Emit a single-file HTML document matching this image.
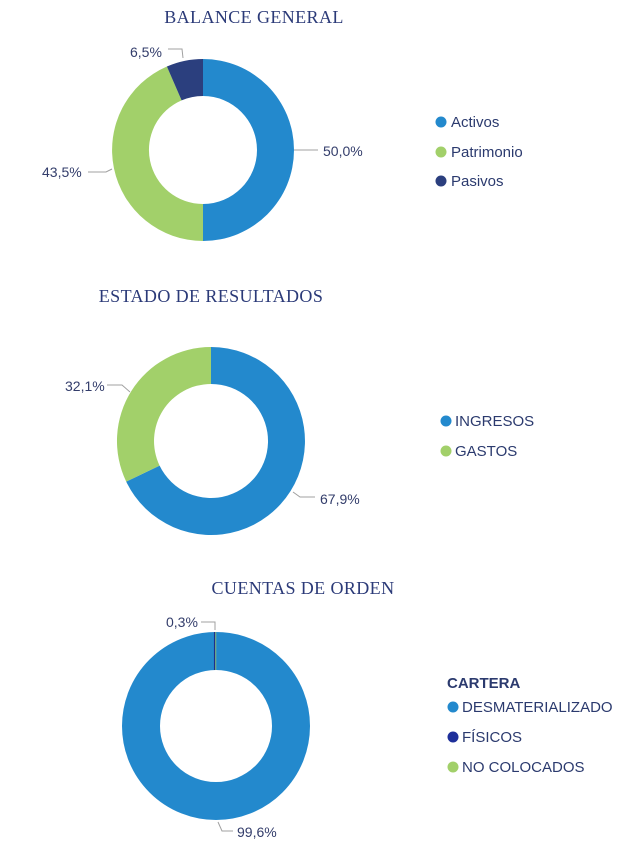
<!DOCTYPE html>
<html><head><meta charset="utf-8"><style>
body{margin:0;background:#fff;}
svg{display:block}
.t{font-family:"Liberation Serif",serif;font-size:18px;fill:#2b3a78;text-anchor:middle;letter-spacing:0.4px}
.l{font-family:"Liberation Sans",sans-serif;font-size:14px;fill:#333d6b}
.g{font-family:"Liberation Sans",sans-serif;font-size:15px;fill:#2b3a6e}
.ln{fill:none;stroke:#a0a0a0;stroke-width:1}
</style></head><body>
<svg width="629" height="844" viewBox="0 0 629 844">
<text class="t" x="254" y="23">BALANCE GENERAL</text>
<path d="M203,59 A91,91 0 0 1 203,241 L203,204 A54,54 0 0 0 203,96 Z" fill="#2389cd"/>
<path d="M203,241 A91,91 0 0 1 166.9,66.5 L181.6,100.4 A54,54 0 0 0 203,204 Z" fill="#a2d06a"/>
<path d="M166.9,66.5 A91,91 0 0 1 203,59 L203,96 A54,54 0 0 0 181.6,100.4 Z" fill="#2b3f7e"/>
<text class="l" x="130" y="57">6,5%</text>
<polyline class="ln" points="168,49 182,49 183,58"/>
<text class="l" x="323" y="156">50,0%</text>
<polyline class="ln" points="294,150 318,150"/>
<text class="l" x="42" y="177">43,5%</text>
<polyline class="ln" points="88,172 106,172 112,169"/>
<circle cx="441" cy="122" r="5.5" fill="#2389cd"/><text class="g" x="451" y="127">Activos</text>
<circle cx="441" cy="152" r="5.5" fill="#a2d06a"/><text class="g" x="451" y="157">Patrimonio</text>
<circle cx="441" cy="181" r="5.5" fill="#2b3f7e"/><text class="g" x="451" y="186">Pasivos</text>

<text class="t" x="211" y="302">ESTADO DE RESULTADOS</text>
<path d="M211,347 A94,94 0 1 1 126.2,481.6 L159.6,465.6 A57,57 0 1 0 211,384 Z" fill="#2389cd"/>
<path d="M126.2,481.6 A94,94 0 0 1 211,347 L211,384 A57,57 0 0 0 159.6,465.6 Z" fill="#a2d06a"/>
<text class="l" x="320" y="504">67,9%</text>
<polyline class="ln" points="293,492 300,497 315,497"/>
<text class="l" x="65" y="391">32,1%</text>
<polyline class="ln" points="107,385 122,385 130,392"/>
<circle cx="446" cy="421" r="5.5" fill="#2389cd"/><text class="g" x="455" y="426">INGRESOS</text>
<circle cx="446" cy="451" r="5.5" fill="#a2d06a"/><text class="g" x="455" y="456">GASTOS</text>

<text class="t" x="303" y="594">CUENTAS DE ORDEN</text>
<circle cx="216" cy="726" r="75" fill="none" stroke="#2389cd" stroke-width="38"/>
<line x1="214.6" y1="632" x2="214.6" y2="670" stroke="#1e2f8a" stroke-width="1.3"/>
<line x1="215.8" y1="632" x2="215.8" y2="670" stroke="#a2d06a" stroke-width="0.8"/>
<text class="l" x="166" y="627">0,3%</text>
<polyline class="ln" points="201,622 215,622 215,630"/>
<text class="l" x="237" y="837">99,6%</text>
<polyline class="ln" points="218,822 222,831 233,831"/>
<text class="g" x="447" y="688" style="font-weight:bold">CARTERA</text>
<circle cx="453" cy="707" r="5.5" fill="#2389cd"/><text class="g" x="462" y="712">DESMATERIALIZADO</text>
<circle cx="453" cy="737" r="5.5" fill="#1e2f9a"/><text class="g" x="462" y="742">FÍSICOS</text>
<circle cx="453" cy="767" r="5.5" fill="#a2d06a"/><text class="g" x="462" y="772">NO COLOCADOS</text>
</svg>
</body></html>
